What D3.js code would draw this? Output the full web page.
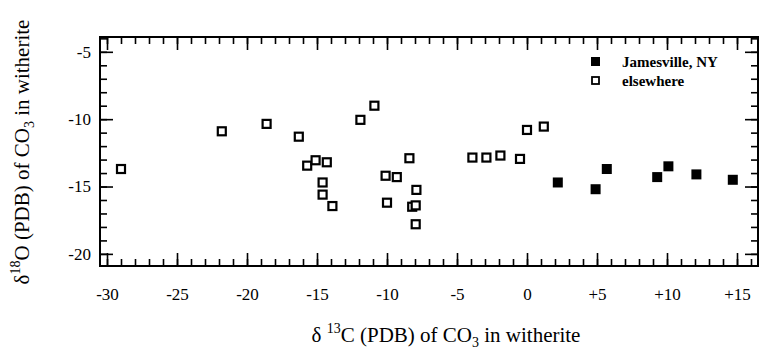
<!DOCTYPE html>
<html><head><meta charset="utf-8">
<script src="https://cdn.jsdelivr.net/npm/d3@7"></script>
<style>body{margin:0;background:#fff}svg{display:block}</style>
</head><body><svg id="c" width="761" height="350"></svg>
<script>
// Data (δ13C, δ18O)
const jamesvilleX = [2.2, 4.9, 5.7, 9.3, 10.1, 12.1, 14.7];
const jamesvilleY = [-14.7, -15.2, -13.7, -14.3, -13.5, -14.1, -14.5];
const elsewhereX = [-29.0, -21.8, -18.6, -16.3, -15.7, -15.1, -14.3, -14.6, -14.6, -13.9,
  -10.9, -11.9, -8.4, -10.1, -9.3, -7.9, -10.0, -8.2, -7.95, -7.95,
  -3.9, -2.9, -1.9, -0.5, 0.0, 1.2];
const elsewhereY = [-13.7, -10.9, -10.35, -11.3, -13.45, -13.05, -13.2, -14.7, -15.6, -16.45,
  -9.0, -10.05, -12.9, -14.2, -14.3, -15.25, -16.2, -16.5, -16.4, -17.8,
  -12.85, -12.85, -12.7, -12.95, -10.8, -10.55];
const xTickValues = [-30, -25, -20, -15, -10, -5, 0, 5, 10, 15];
const xTickLabels = ["-30", "-25", "-20", "-15", "-10", "-5", "0", "+5", "+10", "+15"];
const yTickValues = [-5, -10, -15, -20];
const yTickLabels = ["-5", "-10", "-15", "-20"];
const legendLabels = ["Jamesville, NY", "elsewhere"];

const FONT = '"Liberation Serif", "Times New Roman", Times, serif';
const svg = d3.select("#c");
const L = 100, R = 758, T = 37, B = 266;
const x = d3.scaleLinear().domain([-30.5, 16.5]).range([L, R]);
const y = d3.scaleLinear().domain([-20.9, -3.9]).range([B, T]);

const g = svg.append("g");
const minorX = d3.range(-30, 17, 1);
const minorY = d3.range(-20, -3, 1);

function styleAxis(sel) {
  sel.attr("font-family", null);
  sel.select(".domain").remove();
  sel.selectAll("line").attr("stroke", "#000").attr("stroke-width", 1.6);
}
// bottom
g.append("g").attr("transform", `translate(0,${B})`)
  .call(d3.axisBottom(x).tickValues(minorX).tickSize(-7).tickFormat("")).call(styleAxis);
g.append("g").attr("transform", `translate(0,${B})`)
  .call(d3.axisBottom(x).tickValues(xTickValues).tickSize(-13).tickPadding(22)
    .tickFormat((d, i) => xTickLabels[i])).call(styleAxis)
  .selectAll("text").attr("font-size", 17).style("font-family", FONT).attr("fill", "#000");
// top
g.append("g").attr("transform", `translate(0,${T})`)
  .call(d3.axisTop(x).tickValues(minorX).tickSize(-7).tickFormat("")).call(styleAxis);
g.append("g").attr("transform", `translate(0,${T})`)
  .call(d3.axisTop(x).tickValues(xTickValues).tickSize(-13).tickFormat("")).call(styleAxis);
// left
g.append("g").attr("transform", `translate(${L},0)`)
  .call(d3.axisLeft(y).tickValues(minorY).tickSize(-7).tickFormat("")).call(styleAxis);
g.append("g").attr("transform", `translate(${L},0)`)
  .call(d3.axisLeft(y).tickValues(yTickValues).tickSize(-13).tickPadding(9)
    .tickFormat((d, i) => yTickLabels[i])).call(styleAxis)
  .selectAll("text").attr("font-size", 17).style("font-family", FONT).attr("fill", "#000");
// right
g.append("g").attr("transform", `translate(${R},0)`)
  .call(d3.axisRight(y).tickValues(minorY).tickSize(-7).tickFormat("")).call(styleAxis);
g.append("g").attr("transform", `translate(${R},0)`)
  .call(d3.axisRight(y).tickValues(yTickValues).tickSize(-13).tickFormat("")).call(styleAxis);

// frame
svg.append("rect").attr("x", L).attr("y", T).attr("width", R - L).attr("height", B - T)
  .attr("fill", "none").attr("stroke", "#000").attr("stroke-width", 2);

// points
const S = 8;
const openData = elsewhereX.map((d, i) => [d, elsewhereY[i]]);
const fillData = jamesvilleX.map((d, i) => [d, jamesvilleY[i]]);
svg.append("g").selectAll("rect").data(openData).join("rect")
  .attr("x", d => x(d[0]) - S / 2).attr("y", d => y(d[1]) - S / 2)
  .attr("width", S).attr("height", S).attr("fill", "#fff").attr("stroke", "#000").attr("stroke-width", 2.2);
svg.append("g").selectAll("rect").data(fillData).join("rect")
  .attr("x", d => x(d[0]) - (S + 2) / 2).attr("y", d => y(d[1]) - (S + 2) / 2)
  .attr("width", S + 2).attr("height", S + 2).attr("fill", "#000");

// legend
const lg = svg.append("g").style("font-family", FONT);
lg.append("rect").attr("x", 591).attr("y", 57).attr("width", 9).attr("height", 9).attr("fill", "#000");
lg.append("rect").attr("x", 592).attr("y", 77).attr("width", 7).attr("height", 7)
  .attr("fill", "#fff").attr("stroke", "#000").attr("stroke-width", 1.8);
lg.append("text").attr("x", 622).attr("y", 67).attr("font-size", 15).attr("font-weight", "bold").text(legendLabels[0]);
lg.append("text").attr("x", 622).attr("y", 86).attr("font-size", 15).attr("font-weight", "bold").text(legendLabels[1]);

// axis titles
const xt = svg.append("text").attr("x", 446).attr("y", 342).attr("text-anchor", "middle")
  .attr("font-size", 21).style("font-family", FONT);
xt.append("tspan").text("δ ");
xt.append("tspan").attr("dy", -9).attr("font-size", 14).text("13");
xt.append("tspan").attr("dy", 9).text("C (PDB) of CO");
xt.append("tspan").attr("dy", 5).attr("font-size", 14).text("3");
xt.append("tspan").attr("dy", -5).text(" in witherite");

const yt = svg.append("text").attr("transform", `translate(29,152) rotate(-90)`)
  .attr("text-anchor", "middle").attr("font-size", 21).style("font-family", FONT);
yt.append("tspan").text("δ");
yt.append("tspan").attr("dy", -9).attr("font-size", 14).text("18");
yt.append("tspan").attr("dy", 9).text("O (PDB) of CO");
yt.append("tspan").attr("dy", 5).attr("font-size", 14).text("3");
yt.append("tspan").attr("dy", -5).text(" in witherite");
</script></body></html>
